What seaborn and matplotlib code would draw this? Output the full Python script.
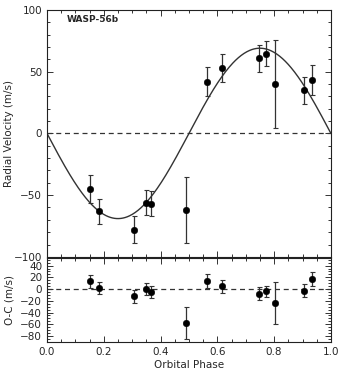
import numpy as np
import pandas as pd
import seaborn as sns
import matplotlib
matplotlib.use("Agg")
import matplotlib.pyplot as plt
from matplotlib.ticker import MultipleLocator

# data
phase = [0.151, 0.183, 0.306, 0.349, 0.366, 0.490, 0.562, 0.617,
         0.746, 0.772, 0.804, 0.904, 0.935]
rv = [-45, -63, -78, -56, -57, -62, 42, 53, 61, 64.5, 40, 35, 43]
rv_err = [11, 10, 11, 10, 10, 27, 12, 11, 11, 10, 36, 11, 12]
resid = [13, 2, -12, 0, -5, -58, 14, 5, -8, -4, -24, -3, 17]

# model curve: circular orbit, K ~ 69 m/s
K = 69
model_phase = np.linspace(0, 1, 400)
model_rv = -K * np.sin(2 * np.pi * model_phase)

df = pd.DataFrame({"phase": phase, "rv": rv, "err": rv_err, "resid": resid})
model = pd.DataFrame({"phase": model_phase, "rv": model_rv})

sns.set_style("ticks")
plt.rcParams['font.family'] = ['DejaVu Sans']

fig = plt.figure(figsize=(3.38, 3.68), dpi=100)
ax1 = fig.add_axes([0.139, 0.302, 0.840, 0.671])
ax2 = fig.add_axes([0.139, 0.071, 0.840, 0.228])

# top panel
sns.lineplot(data=model, x="phase", y="rv", ax=ax1, color="#333333", lw=1.0)
ax1.errorbar(df["phase"], df["rv"], yerr=df["err"], fmt="none",
             ecolor="#333333", elinewidth=0.9, capsize=1.8, capthick=0.8)
sns.scatterplot(data=df, x="phase", y="rv", ax=ax1, color="black", s=22,
                edgecolor="black", zorder=3)
ax1.axhline(0, color="#333333", ls=(0, (4, 3)), lw=0.9)
ax1.set_xlim(0, 1)
ax1.set_ylim(-100, 100)
ax1.set_yticks([-100, -50, 0, 50, 100])
ax1.yaxis.set_minor_locator(MultipleLocator(10))
ax1.xaxis.set_major_locator(MultipleLocator(0.2))
ax1.xaxis.set_minor_locator(MultipleLocator(0.05))
ax1.set_xticklabels([])
ax1.set_xlabel("")
ax1.set_ylabel("Radial Velocity (m/s)", fontsize=7.5)
ax1.text(0.07, 92, "WASP-56b", fontsize=6.5, fontweight="bold", va="center")

# bottom panel
ax2.errorbar(df["phase"], df["resid"], yerr=df["err"], fmt="none",
             ecolor="#333333", elinewidth=0.9, capsize=1.8, capthick=0.8)
sns.scatterplot(data=df, x="phase", y="resid", ax=ax2, color="black", s=22,
                edgecolor="black", zorder=3)
ax2.axhline(0, color="#333333", ls=(0, (4, 3)), lw=0.9)
ax2.set_xlim(0, 1)
ax2.set_ylim(-90, 53)
ax2.set_yticks([-80, -60, -40, -20, 0, 20, 40])
ax2.yaxis.set_minor_locator(MultipleLocator(5))
ax2.xaxis.set_minor_locator(MultipleLocator(0.05))
ax2.set_xticks([0.0, 0.2, 0.4, 0.6, 0.8, 1.0])
ax2.set_xticklabels(["0.0", "0.2", "0.4", "0.6", "0.8", "1.0"])
ax2.set_xlabel("Orbital Phase", fontsize=7.5, labelpad=2)
ax2.set_ylabel("O-C (m/s)", fontsize=7.5)

for ax in (ax1, ax2):
    ax.tick_params(which="both", direction="in", top=True, right=True,
                   labelsize=7.5, width=0.7, color="#333333")
    ax.tick_params(which="major", length=4)
    ax.tick_params(which="minor", length=2)
    for sp in ax.spines.values():
        sp.set_linewidth(0.8)
        sp.set_color("#222222")

ax1.yaxis.set_label_coords(-0.115, 0.5)
ax2.yaxis.set_label_coords(-0.115, 0.5)

fig.savefig("out.png", dpi=100)
